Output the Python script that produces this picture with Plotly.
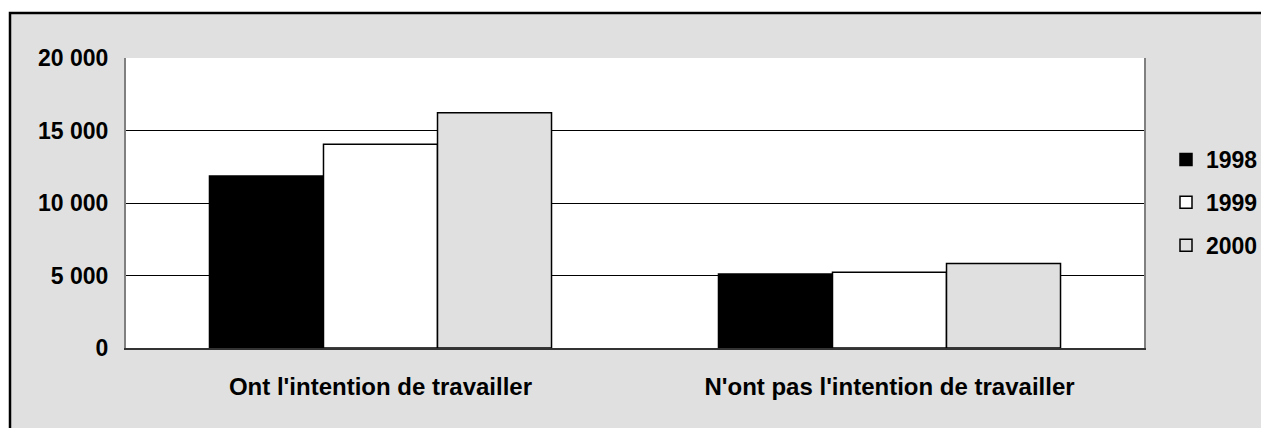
import plotly.graph_objects as go

categories = ["Ont l'intention de travailler", "N'ont pas l'intention de travailler"]
years = ["1998", "1999", "2000"]
values_1998 = [11860, 5100]
values_1999 = [14050, 5220]
values_2000 = [16230, 5820]
colors = ["#000000", "#FFFFFF", "#E0E0E0"]
tick_vals = [0, 5000, 10000, 15000, 20000]
tick_text = ["0", "5 000", "10 000", "15 000", "20 000"]

W, H = 1261, 428
L, R, T, B = 126, W - 1144, 58, H - 348
pw, ph = W - L - R, H - T - B

def px_x(p):
    return (p - L) / pw

def px_y(p):
    return (H - B - p) / ph

FONT = "Liberation Sans, Arial, sans-serif"

fig = go.Figure()
for yr, vals, col in zip(years, [values_1998, values_1999, values_2000], colors):
    fig.add_trace(go.Bar(
        x=categories, y=vals, name=yr, legendgroup=yr,
        marker=dict(color=col, line=dict(color="#000000", width=1.5)),
    ))

fig.update_layout(
    width=W, height=H,
    margin=dict(l=L, r=R, t=T, b=B, pad=0, autoexpand=False),
    paper_bgcolor="#FFFFFF",
    plot_bgcolor="#FFFFFF",
    barmode="group", bargap=0.328, bargroupgap=0,
    font=dict(family=FONT, size=23, color="#000000"),
    showlegend=True,
    legend=dict(
        x=px_x(1166), xanchor="left", y=px_y(138), yanchor="top",
        bgcolor="rgba(0,0,0,0)", tracegroupgap=10,
        font=dict(family=FONT, size=23, color="#000000", weight="bold"),
    ),
    shapes=[
        dict(type="rect", xref="paper", yref="paper", layer="below",
             x0=px_x(10), x1=px_x(1300), y0=px_y(470), y1=px_y(13),
             fillcolor="#E0E0E0", line=dict(color="#000000", width=2.5)),
        dict(type="rect", xref="paper", yref="paper", layer="below",
             x0=0, x1=1, y0=0, y1=1, fillcolor="#FFFFFF", line=dict(width=0)),
    ],
)
fig.update_xaxes(
    showline=True, linecolor="#333333", linewidth=2,
    showgrid=False, ticks="", ticklabelstandoff=16,
    tickfont=dict(family=FONT, size=24, weight="bold"),
)
fig.update_yaxes(
    range=[0, 20000], tickvals=tick_vals, ticktext=tick_text,
    showline=True, linecolor="#808080", linewidth=2, mirror=True,
    showgrid=True, gridcolor="#000000", gridwidth=1, zeroline=False,
    ticks="", ticklabelstandoff=11,
    tickfont=dict(family=FONT, size=23, weight="bold"),
)
fig.write_html(
    "out.html",
    config={"displayModeBar": False},
    post_script="document.body.style.margin='0';document.body.style.overflow='hidden';",
)
